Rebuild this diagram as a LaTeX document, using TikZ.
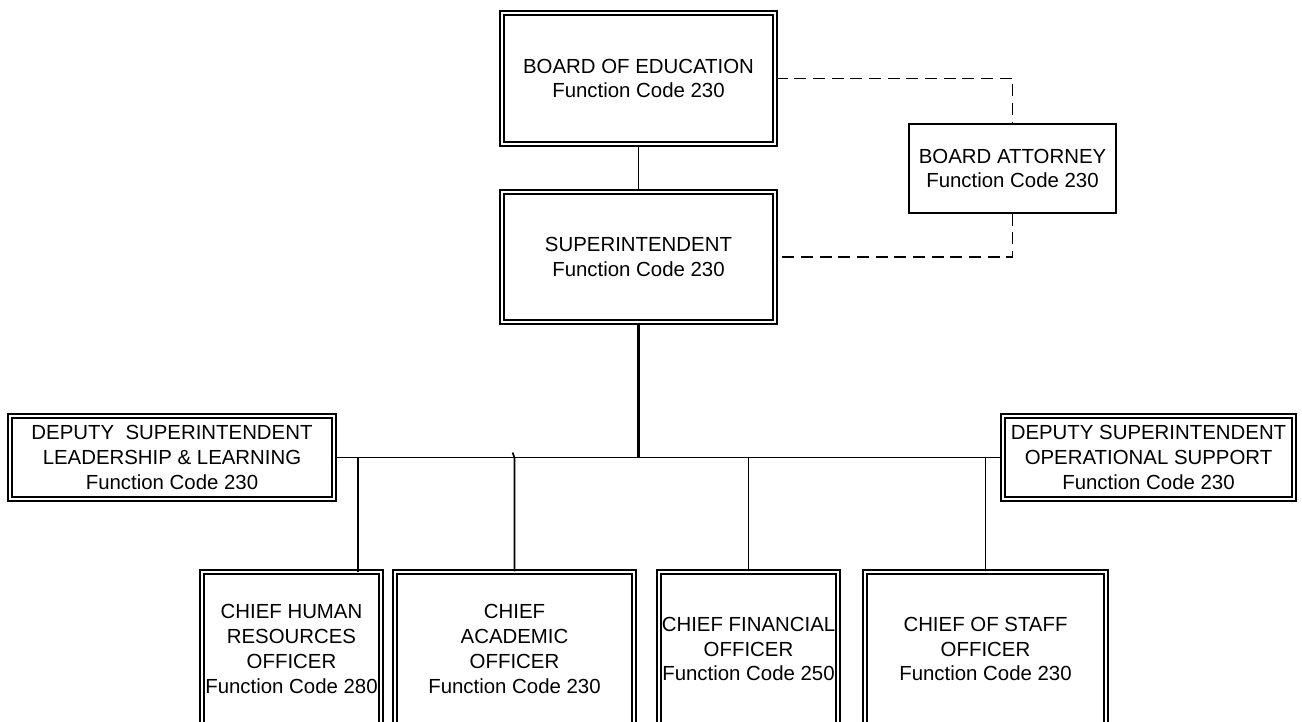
\documentclass[tikz,border=0pt]{standalone}
\usepackage{fontspec}
\setmainfont{Liberation Sans}
\tikzset{
    dbox/.style={draw, double, double distance=2pt, line width=1pt, inner sep=0pt, align=center},
    sbox/.style={draw, line width=1.1pt, inner sep=0pt, align=center},
    link/.style={line width=1.2pt},
    dlink/.style={line width=1.2pt, dash pattern=on 9pt off 5pt}
}
\begin{document}
\begin{tikzpicture}[x=0.75pt, y=-0.75pt, font=\fontsize{15.3}{18.6}\selectfont]
        \useasboundingbox (0,0) rectangle (1302,721);
        \node[dbox, minimum width=273*0.75pt, minimum height=131*0.75pt] (boe) at (638.5, 78.5) {BOARD OF EDUCATION\\Function Code 230};
        \node[dbox, minimum width=273*0.75pt, minimum height=130*0.75pt] (sup) at (638.5, 257) {SUPERINTENDENT\\Function Code 230};
        \node[sbox, minimum width=207*0.75pt, minimum height=89*0.75pt] (att) at (1012.5, 168.5) {BOARD ATTORNEY\\Function Code 230};
        \node[dbox, minimum width=324*0.75pt, minimum height=83*0.75pt] (dl) at (172, 457.5) {DEPUTY~~SUPERINTENDENT\\LEADERSHIP \& LEARNING\\Function Code 230};
        \node[dbox, minimum width=291*0.75pt, minimum height=83*0.75pt] (dr) at (1148.5, 457.5) {DEPUTY SUPERINTENDENT\\OPERATIONAL SUPPORT\\Function Code 230};
        \node[dbox, minimum width=179*0.75pt, minimum height=154*0.75pt] (hr) at (291.5, 649) {CHIEF HUMAN\\RESOURCES\\OFFICER\\Function Code 280};
        \node[dbox, minimum width=239*0.75pt, minimum height=154*0.75pt] (ac) at (514.5, 649) {CHIEF\\ACADEMIC\\OFFICER\\Function Code 230};
        \node[dbox, minimum width=179*0.75pt, minimum height=154*0.75pt] (fin) at (748.5, 649) {CHIEF FINANCIAL\\OFFICER\\Function Code 250};
        \node[dbox, minimum width=241*0.75pt, minimum height=154*0.75pt] (cos) at (985.5, 649) {CHIEF OF STAFF\\OFFICER\\Function Code 230};
        \coordinate (hrtop) at (358, 572);
        \draw[link] (boe.south) -- (sup.north);
        \draw[dlink] (boe.east) -| (att.north);
        \draw[dlink] (att.south) |- (sup.east);
        \draw[line width=1.8pt] (sup.south) -- (sup.south |- dl.east);
        \draw[link] (dl.east) -- (dr.west);
        \draw[link] (hrtop) -- (hrtop |- dl.east);
        \draw[link] (ac.north) -- (ac.north |- dl.east) -- ++(-2,-5);
        \draw[link] (fin.north) -- (fin.north |- dl.east);
        \draw[link] (cos.north) -- (cos.north |- dl.east);
    \end{tikzpicture}
\end{document}
